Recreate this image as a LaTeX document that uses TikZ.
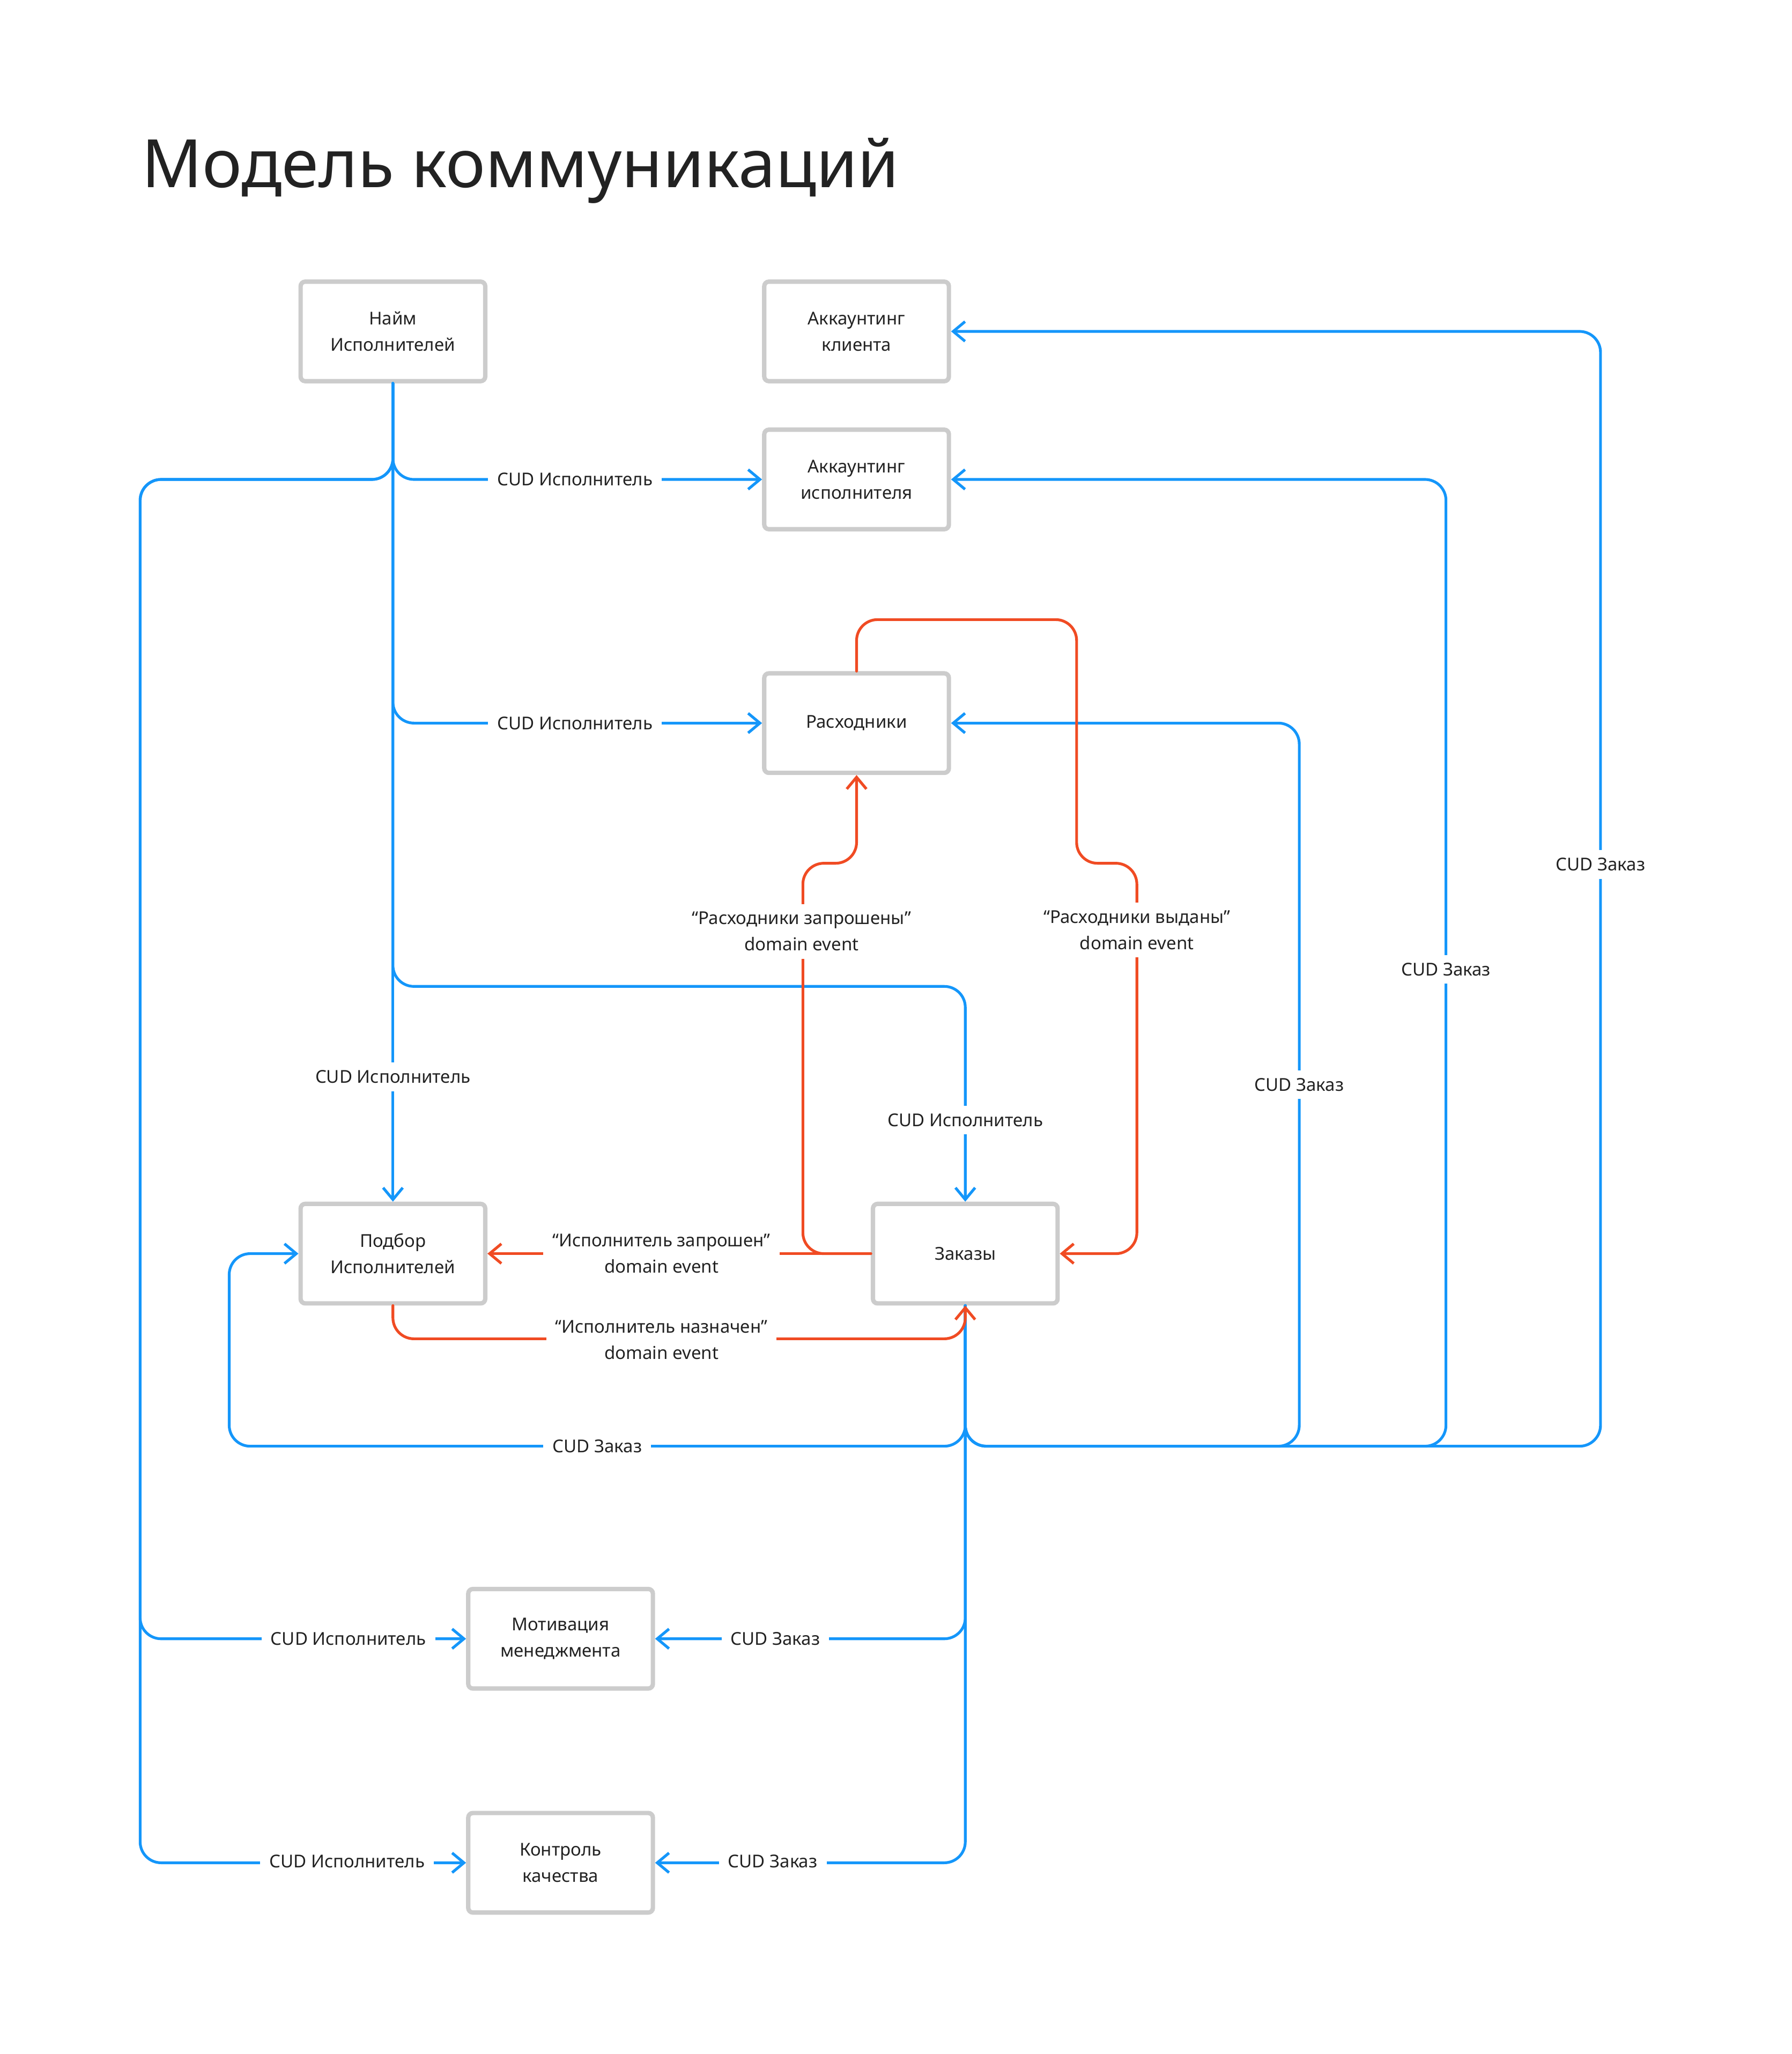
\documentclass[tikz,border=0pt]{standalone}
\usepackage{fontspec}
\setmainfont{Noto Sans}
\usetikzlibrary{arrows.meta}
\definecolor{cudblue}{HTML}{1496FA}
\definecolor{evred}{HTML}{F04B23}
\definecolor{boxgray}{HTML}{CCCCCC}
\definecolor{inkgray}{HTML}{222222}
\tikzset{
	box/.style={draw=boxgray, line width=1.9pt, rounded corners=2pt, fill=white, minimum width=2.82cm, minimum height=1.52cm, align=center, text=inkgray, font=\fontsize{7.7}{11.4}\selectfont},
	lbl/.style={fill=white, align=center, inner xsep=0.14cm, inner ysep=0.12cm, text=inkgray, font=\fontsize{7.7}{11.4}\selectfont},
	cud/.style={cudblue, line width=1.2pt, rounded corners=0.32cm, line cap=round, -{Straight Barb[length=0.18cm,width=0.3cm]}},
	ev/.style={evred, line width=1.2pt, rounded corners=0.32cm, line cap=round, -{Straight Barb[length=0.18cm,width=0.3cm]}}
}
\begin{document}
\begin{tikzpicture}[x=0.02cm,y=-0.02cm]
		\useasboundingbox (0,0) rectangle (1368,1568);
		\node[anchor=base west, text=inkgray, font=\fontsize{29}{35}\selectfont, inner sep=0pt] (title) at (108,143) {Модель коммуникаций};

		\node[box] (hire) at (300,253) {Найм\\Исполнителей};
		\node[box] (accclient) at (654,253) {Аккаунтинг\\клиента};
		\node[box] (accexec) at (654,366) {Аккаунтинг\\исполнителя};
		\node[box] (supplies) at (654,552) {Расходники};
		\node[box] (pick) at (300,957) {Подбор\\Исполнителей};
		\node[box] (orders) at (737,957) {Заказы};
		\node[box] (motiv) at (428,1251) {Мотивация\\менеджмента};
		\node[box] (quality) at (428,1422) {Контроль\\качества};

		\draw[cud] (hire.south) -- (pick.north);
		\draw[cud] (hire.south) |- (accexec.west);
		\draw[cud] (hire.south) |- (supplies.west);
		\draw[cud] (hire.south) |- (737,753) -- (orders.north);
		\draw[cud] (hire.south) |- (107,366) |- (motiv.west);
		\draw[cud] (hire.south) |- (107,366) |- (quality.west);

		\draw[cud] (orders.south) |- (175,1104) |- (pick.west);
		\draw[cud] (orders.south) |- (992,1104) |- (supplies.east);
		\draw[cud] (orders.south) |- (1104,1104) |- (accexec.east);
		\draw[cud] (orders.south) |- (1222,1104) |- (accclient.east);
		\draw[cud] (orders.south) |- (motiv.east);
		\draw[cud] (orders.south) |- (quality.east);

		\draw[ev] (supplies.north) |- (822,473) |- (868,659) |- (orders.east);
		\draw[ev] (orders.west) -| (613,659) -| (supplies.south);
		\draw[ev] (orders.west) -- (pick.east);
		\draw[ev] (pick.south) |- (737,1022) -- (orders.south);

		\node[lbl] (hirepick) at (300,822) {CUD Исполнитель};
		\node[lbl] (hireexec) at (439,366) {CUD Исполнитель};
		\node[lbl] (hiresupp) at (439,552) {CUD Исполнитель};
		\node[lbl] (hireord) at (737,855) {CUD Исполнитель};
		\node[lbl] (hiremotiv) at (266,1251) {CUD Исполнитель};
		\node[lbl] (hirequal) at (265,1421) {CUD Исполнитель};

		\node[lbl] (ordpick) at (456,1104) {CUD Заказ};
		\node[lbl] (ordsupp) at (992,828) {CUD Заказ};
		\node[lbl] (ordexec) at (1104,740) {CUD Заказ};
		\node[lbl] (ordclient) at (1222,660) {CUD Заказ};
		\node[lbl] (ordmotiv) at (592,1251) {CUD Заказ};
		\node[lbl] (ordqual) at (590,1421) {CUD Заказ};

		\node[lbl] (askedsupp) at (612,711) {“Расходники запрошены”\\domain event};
		\node[lbl] (gavesupp) at (868,710) {“Расходники выданы”\\domain event};
		\node[lbl] (askedexec) at (505,957) {“Исполнитель запрошен”\\domain event};
		\node[lbl] (setexec) at (505,1023) {“Исполнитель назначен”\\domain event};
\end{tikzpicture}
\end{document}
